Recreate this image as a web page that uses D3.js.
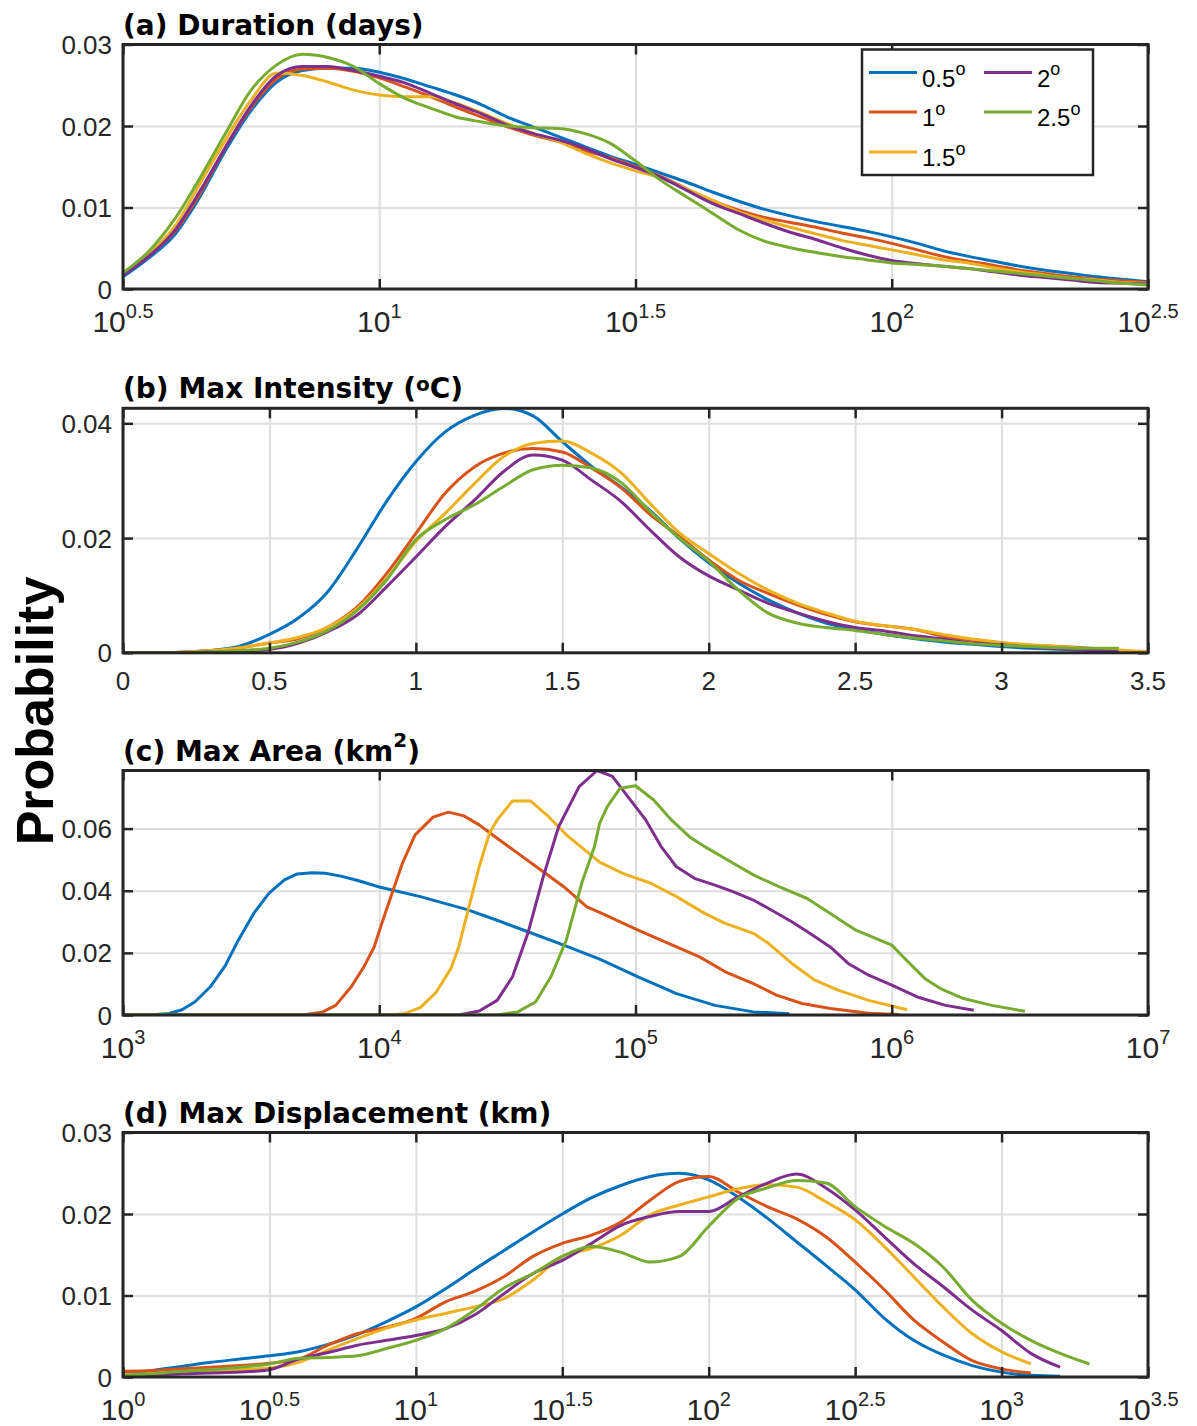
<!DOCTYPE html>
<html>
<head>
<meta charset="utf-8">
<script src="https://cdn.jsdelivr.net/npm/d3@7"></script>
<style>
  body { margin: 0; background: #fff; }
  svg text { font-family: "Liberation Sans", Arial, sans-serif; }
  svg text.title { font-family: "DejaVu Sans", sans-serif; font-weight: bold; }
</style>
</head>
<body>
<svg id="drawing_region"></svg>
<script>
// grid resolutions shown in the legend, MATLAB default colour order
const resolutions = ["0.5", "1", "1.5", "2", "2.5"];
const colors = ["#0072BD", "#D95319", "#EDB120", "#7E2F8E", "#77AC30"];

// (a) Duration (days), x given as log10(days)
const durLogX = [0.5,0.55,0.6,0.65,0.7,0.75,0.8,0.85,0.9,0.95,1,1.05,1.1,1.15,1.2,1.25,1.3,1.35,1.4,1.45,1.5,
                 1.55,1.6,1.65,1.7,1.75,1.8,1.85,1.9,1.95,2,2.05,2.1,2.15,2.2,2.25,2.3,2.35,2.4,2.45,2.5];
const dur05 = [0.0015,0.0038,0.0066,0.0113,0.0170,0.0219,0.0254,0.0268,0.0271,0.0271,0.0266,0.0258,0.0248,0.0238,0.0226,0.0211,0.0199,0.0187,0.0175,0.0163,
               0.0153,0.0142,0.0131,0.0119,0.0108,0.0098,0.0090,0.0083,0.0077,0.0071,0.0064,0.0056,0.0047,0.0040,0.0034,0.0028,0.0023,0.0019,0.0015,0.0012,0.0009];
const dur10 = [0.0018,0.0041,0.0070,0.0117,0.0174,0.0223,0.0258,0.0270,0.0271,0.0267,0.0259,0.0248,0.0236,0.0223,0.0211,0.0199,0.0189,0.0181,0.0170,0.0161,
               0.0150,0.0138,0.0123,0.0108,0.0097,0.0088,0.0082,0.0076,0.0069,0.0063,0.0056,0.0048,0.0040,0.0034,0.0029,0.0023,0.0019,0.0015,0.0012,0.0010,0.0008];
const dur15 = [0.0018,0.0043,0.0076,0.0129,0.0183,0.0232,0.0265,0.0262,0.0254,0.0244,0.0238,0.0236,0.0236,0.0228,0.0216,0.0203,0.0191,0.0181,0.0167,0.0155,
               0.0145,0.0136,0.0123,0.0109,0.0095,0.0085,0.0076,0.0068,0.0060,0.0054,0.0048,0.0042,0.0036,0.0032,0.0026,0.0021,0.0017,0.0013,0.0011,0.0008,0.0007];
const dur20 = [0.0017,0.0040,0.0071,0.0120,0.0174,0.0225,0.0262,0.0273,0.0273,0.0268,0.0261,0.0253,0.0240,0.0227,0.0215,0.0201,0.0191,0.0183,0.0173,0.0160,
               0.0149,0.0137,0.0121,0.0105,0.0093,0.0081,0.0070,0.0061,0.0051,0.0042,0.0035,0.0031,0.0028,0.0025,0.0021,0.0017,0.0014,0.0011,0.0008,0.0007,0.0006];
const dur25 = [0.0020,0.0046,0.0085,0.0136,0.0191,0.0244,0.0275,0.0288,0.0284,0.0273,0.0252,0.0234,0.0222,0.0211,0.0205,0.0200,0.0198,0.0197,0.0191,0.0179,
               0.0157,0.0133,0.0113,0.0093,0.0073,0.0059,0.0051,0.0045,0.0040,0.0036,0.0032,0.0030,0.0028,0.0025,0.0022,0.0019,0.0016,0.0013,0.0010,0.0007,0.0005];

// (b) Max Intensity (oC)
const intX = [0,0.1,0.2,0.3,0.4,0.5,0.6,0.7,0.8,0.9,1,1.1,1.2,1.3,1.4,1.5,1.6,1.7,1.8,1.9,2,2.1,2.2,2.3,2.4,2.5,2.6,2.7,2.8,2.9,3,3.1,3.2,3.3,3.4,3.5];
const int05 = [0,0,0.0001,0.0004,0.0012,0.0032,0.0061,0.0107,0.0182,0.0264,0.0333,0.0385,0.0414,0.0426,0.0413,0.0368,0.0325,0.0289,0.0248,0.0199,
               0.0157,0.0122,0.0093,0.0070,0.0052,0.0041,0.0032,0.0025,0.0019,0.0015,0.0011,0.0008,0.0006,0.0004,0.0002];
const int10 = [0,0,0.0001,0.0004,0.0009,0.0017,0.0025,0.0045,0.0080,0.0138,0.0208,0.0278,0.0324,0.0348,0.0356,0.0350,0.0322,0.0288,0.0241,0.0203,
               0.0162,0.0127,0.0104,0.0084,0.0067,0.0054,0.0047,0.0041,0.0029,0.0022,0.0017,0.0013,0.0011,0.0008,0.0006];
const int15 = [0,0,0.0001,0.0004,0.0009,0.0017,0.0027,0.0045,0.0077,0.0129,0.0194,0.0243,0.0295,0.0342,0.0365,0.0369,0.0348,0.0314,0.0260,0.0209,
               0.0173,0.0139,0.0110,0.0087,0.0070,0.0055,0.0047,0.0041,0.0032,0.0024,0.0018,0.0014,0.0011,0.0007,0.0005,0.0002];
const int20 = [0,0,0,0.0002,0.0003,0.0006,0.0017,0.0037,0.0066,0.0115,0.0167,0.0220,0.0266,0.0316,0.0345,0.0336,0.0301,0.0264,0.0214,0.0167,
               0.0134,0.0110,0.0087,0.0070,0.0055,0.0044,0.0038,0.0030,0.0024,0.0017,0.0014,0.0010,0.0007,0.0005,0.0002];
const int25 = [0,0,0,0.0002,0.0004,0.0008,0.0019,0.0039,0.0074,0.0127,0.0197,0.0232,0.0258,0.0290,0.0319,0.0327,0.0322,0.0297,0.0246,0.0200,
               0.0160,0.0110,0.0070,0.0052,0.0044,0.0039,0.0032,0.0026,0.0021,0.0016,0.0013,0.0011,0.0009,0.0008,0.0008];

// (c) Max Area (km2), x given as log10(km2), each series on its own bins
const areaLogX05 = [3.00,3.10,3.18,3.23,3.28,3.34,3.40,3.45,3.51,3.57,3.63,3.68,3.74,3.79,3.85,3.92,4.00,4.16,4.34,4.46,4.58,4.72,4.86,5.01,5.16,5.31,5.46,5.60];
const area05 =     [0,0,0.0005,0.0017,0.0042,0.0090,0.0160,0.0241,0.0327,0.0392,0.0435,0.0454,0.0458,0.0456,0.0447,0.0432,0.0412,0.0381,0.0340,0.0305,0.0268,0.0225,0.0180,0.0123,0.0069,0.0031,0.0010,0.0004];
const areaLogX10 = [3.00,3.70,3.78,3.83,3.89,3.94,3.98,4.01,4.05,4.09,4.14,4.21,4.27,4.33,4.39,4.46,4.54,4.64,4.72,4.81,4.86,5.01,5.16,5.25,5.35,5.46,5.55,5.65,5.76,5.91,6.03];
const area10 =     [0,0,0.0010,0.0031,0.0090,0.0155,0.0219,0.0295,0.0392,0.0488,0.0580,0.0637,0.0653,0.0641,0.0612,0.0569,0.0521,0.0461,0.0413,0.0348,0.0330,0.0273,0.0219,0.0187,0.0139,0.0101,0.0064,0.0037,0.0021,0.0006,0.0002];
const areaLogX15 = [3.00,4.05,4.10,4.16,4.22,4.28,4.31,4.35,4.39,4.43,4.46,4.52,4.59,4.66,4.73,4.81,4.86,4.95,5.06,5.16,5.27,5.35,5.46,5.52,5.61,5.70,5.79,5.91,6.06];
const area15 =     [0,0,0.0005,0.0024,0.0071,0.0150,0.0219,0.0348,0.0477,0.0585,0.0628,0.0689,0.0689,0.0639,0.0580,0.0526,0.0492,0.0456,0.0424,0.0381,0.0327,0.0295,0.0263,0.0230,0.0166,0.0112,0.0080,0.0047,0.0017];
const areaLogX20 = [3.00,4.31,4.39,4.46,4.52,4.58,4.64,4.70,4.78,4.85,4.91,4.97,5.04,5.10,5.16,5.23,5.31,5.38,5.46,5.53,5.61,5.68,5.76,5.83,5.91,6.00,6.10,6.21,6.32];
const area20 =     [0,0,0.0013,0.0047,0.0123,0.0263,0.0445,0.0606,0.0735,0.0787,0.0768,0.0703,0.0628,0.0542,0.0477,0.0440,0.0418,0.0397,0.0370,0.0338,0.0300,0.0263,0.0219,0.0166,0.0128,0.0096,0.0058,0.0031,0.0015];
const areaLogX25 = [3.00,4.46,4.54,4.61,4.67,4.73,4.79,4.84,4.86,4.89,4.94,5.00,5.07,5.14,5.21,5.28,5.37,5.46,5.56,5.67,5.76,5.86,6.00,6.07,6.13,6.19,6.28,6.39,6.52];
const area25 =     [0,0,0.0010,0.0042,0.0123,0.0241,0.0424,0.0542,0.0617,0.0671,0.0730,0.0738,0.0693,0.0628,0.0574,0.0537,0.0494,0.0451,0.0413,0.0375,0.0327,0.0273,0.0225,0.0166,0.0117,0.0085,0.0053,0.0031,0.0012];

// (d) Max Displacement (km), x given as log10(km)
const dispLogX = [0,0.1,0.2,0.3,0.4,0.5,0.6,0.7,0.8,0.9,1,1.1,1.2,1.3,1.4,1.5,1.6,1.7,1.8,1.9,2,2.1,2.2,2.3,2.4,2.5,2.6,2.7,2.8,2.9,3,3.1,3.2,3.3,3.4,3.5];
const disp05 = [0.0004,0.0008,0.0013,0.0018,0.0022,0.0026,0.0031,0.0040,0.0052,0.0068,0.0086,0.0108,0.0132,0.0155,0.0178,0.0200,0.0220,0.0235,0.0246,0.0250,
                0.0242,0.0221,0.0195,0.0166,0.0137,0.0107,0.0072,0.0045,0.0027,0.0014,0.0006,0.0002,0.0001];
const disp10 = [0.0007,0.0008,0.0010,0.0012,0.0014,0.0017,0.0022,0.0039,0.0053,0.0061,0.0072,0.0092,0.0105,0.0123,0.0148,0.0164,0.0174,0.0190,0.0217,0.0240,
                0.0246,0.0227,0.0209,0.0194,0.0172,0.0141,0.0107,0.0070,0.0043,0.0020,0.0010,0.0005];
const disp15 = [0.0003,0.0004,0.0006,0.0007,0.0009,0.0011,0.0018,0.0033,0.0047,0.0060,0.0070,0.0078,0.0086,0.0096,0.0119,0.0148,0.0158,0.0174,0.0199,0.0211,
                0.0221,0.0231,0.0236,0.0233,0.0215,0.0193,0.0160,0.0123,0.0086,0.0053,0.0031,0.0016];
const disp20 = [0.0001,0.0002,0.0004,0.0005,0.0006,0.0009,0.0022,0.0030,0.0039,0.0045,0.0051,0.0059,0.0076,0.0102,0.0127,0.0143,0.0164,0.0186,0.0197,0.0203,
                0.0203,0.0221,0.0238,0.0249,0.0232,0.0205,0.0172,0.0139,0.0111,0.0082,0.0057,0.0029,0.0012];
const disp25 = [0.0002,0.0004,0.0007,0.0009,0.0012,0.0016,0.0023,0.0024,0.0026,0.0035,0.0045,0.0059,0.0082,0.0109,0.0127,0.0148,0.0160,0.0153,0.0141,0.0148,
                0.0185,0.0219,0.0232,0.0241,0.0238,0.0209,0.0185,0.0164,0.0135,0.0094,0.0066,0.0045,0.0029,0.0016];

// axis ticks
const durTickExp = [0.5, 1, 1.5, 2, 2.5];
const intTicks = [0, 0.5, 1, 1.5, 2, 2.5, 3, 3.5];
const areaTickExp = [3, 4, 5, 6, 7];
const dispTickExp = [0, 0.5, 1, 1.5, 2, 2.5, 3, 3.5];

const pow10 = u => Math.pow(10, u);
const ident = v => v;
const pairs = (xs, ys, toX) => ys.map((y, i) => ({ x: toX(xs[i]), y: y }));

const svg = d3.select('#drawing_region')
    .attr('width', 1197)
    .attr('height', 1426);

const margin = { left: 123 };
const plotW = 1025, plotH = 244.5;
const ink = '#262626';

class ProbPanel {

    constructor( config ) {
        this.config = config;
        this.init();
    }

    init() {
        let self = this;
        const c = self.config;

        self.chart = svg.append('g')
            .attr('transform', `translate(${margin.left}, ${c.top})`);

        self.xvals = c.log ? c.xTicks.map(pow10) : c.xTicks;

        self.xscale = (c.log ? d3.scaleLog() : d3.scaleLinear())
            .domain( [self.xvals[0], self.xvals[self.xvals.length - 1]] )
            .range( [0, plotW] );

        self.yscale = d3.scaleLinear()
            .domain( [0, c.yMax] )
            .range( [plotH, 0] );
    }

    render() {
        let self = this;
        const c = self.config;
        const g = self.chart;

        // grid
        const gx = g.append('g').attr('transform', `translate(0, ${plotH})`)
            .call( d3.axisBottom(self.xscale).tickValues(self.xvals).tickSize(-plotH).tickFormat('') );
        const gy = g.append('g')
            .call( d3.axisLeft(self.yscale).tickValues(c.yTicks).tickSize(-plotW).tickFormat('') );
        [gx, gy].forEach(s => {
            s.select('.domain').remove();
            s.selectAll('line').attr('stroke', '#dedede').attr('stroke-width', 2);
        });

        // curves
        const clipId = 'clip-' + c.id;
        g.append('clipPath').attr('id', clipId)
            .append('rect').attr('x', -2).attr('y', -2).attr('width', plotW + 4).attr('height', plotH + 2);

        const line = d3.line()
            .x(d => self.xscale(d.x))
            .y(d => self.yscale(d.y))
            .curve(c.curve);

        g.append('g').attr('clip-path', `url(#${clipId})`)
            .selectAll('path')
            .data(c.series)
            .join('path')
            .attr('d', line)
            .attr('fill', 'none')
            .attr('stroke', (d, i) => colors[i])
            .attr('stroke-width', 3)
            .attr('stroke-linejoin', 'round');

        // inward ticks on all four sides
        const tk = [
            g.append('g').attr('transform', `translate(0, ${plotH})`)
                .call( d3.axisBottom(self.xscale).tickValues(self.xvals).tickSize(-10).tickFormat('') ),
            g.append('g')
                .call( d3.axisTop(self.xscale).tickValues(self.xvals).tickSize(-10).tickFormat('') ),
            g.append('g')
                .call( d3.axisLeft(self.yscale).tickValues(c.yTicks).tickSize(-10).tickFormat('') ),
            g.append('g').attr('transform', `translate(${plotW}, 0)`)
                .call( d3.axisRight(self.yscale).tickValues(c.yTicks).tickSize(-10).tickFormat('') )
        ];
        tk.forEach(s => {
            s.select('.domain').remove();
            s.selectAll('line').attr('stroke', ink).attr('stroke-width', 2.5);
        });

        g.append('rect')
            .attr('width', plotW).attr('height', plotH)
            .attr('fill', 'none').attr('stroke', ink).attr('stroke-width', 3);

        // y tick labels
        g.selectAll('.ylab')
            .data(c.yTicks)
            .join('text')
            .attr('class', 'ylab')
            .attr('x', -11)
            .attr('y', d => self.yscale(d) + 9.5)
            .attr('text-anchor', 'end')
            .attr('font-size', 26)
            .attr('fill', ink)
            .text(d => d === 0 ? '0' : d.toFixed(2));

        // x tick labels
        const xl = g.selectAll('.xlab')
            .data(c.xTicks)
            .join('text')
            .attr('class', 'xlab')
            .attr('x', (d, i) => self.xscale(self.xvals[i]))
            .attr('y', plotH + (c.log ? 43 : 37))
            .attr('text-anchor', 'middle')
            .attr('fill', ink);
        if (c.log) {
            xl.append('tspan').attr('font-size', 30).text('10');
            xl.append('tspan').attr('font-size', 20).attr('dy', -14).text(d => String(d));
        } else {
            xl.attr('font-size', 26).text(d => String(d));
        }

        // title
        const t = g.append('text')
            .attr('class', 'title')
            .attr('x', 0).attr('y', -10)
            .attr('font-size', 28)
            .attr('fill', '#000');
        c.title.forEach(p => {
            const s = t.append('tspan').text(p[0]);
            if (p[1]) s.attr('font-size', p[1]);
            if (p[2]) s.attr('dy', p[2]);
        });
    }
}

const panels = [
    { id: 'a', top: 44.5, log: true, xTicks: durTickExp, yMax: 0.03, yTicks: [0, 0.01, 0.02, 0.03],
      curve: d3.curveMonotoneX, title: [["(a) Duration (days)"]],
      series: [dur05, dur10, dur15, dur20, dur25].map(ys => pairs(durLogX, ys, pow10)) },
    { id: 'b', top: 408.3, log: false, xTicks: intTicks, yMax: 0.04262, yTicks: [0, 0.02, 0.04],
      curve: d3.curveMonotoneX, title: [["(b) Max Intensity ("], ["o", 20, -7], ["C)", null, 7]],
      series: [int05, int10, int15, int20, int25].map(ys => pairs(intX, ys, ident)) },
    { id: 'c', top: 770.5, log: true, xTicks: areaTickExp, yMax: 0.0787, yTicks: [0, 0.02, 0.04, 0.06],
      curve: d3.curveLinear, title: [["(c) Max Area (km"], ["2", 20, -14], [")", null, 14]],
      series: [[areaLogX05, area05], [areaLogX10, area10], [areaLogX15, area15], [areaLogX20, area20], [areaLogX25, area25]]
          .map(p => pairs(p[0], p[1], pow10)) },
    { id: 'd', top: 1132.5, log: true, xTicks: dispTickExp, yMax: 0.03, yTicks: [0, 0.01, 0.02, 0.03],
      curve: d3.curveMonotoneX, title: [["(d) Max Displacement (km)"]],
      series: [disp05, disp10, disp15, disp20, disp25].map(ys => pairs(dispLogX, ys, pow10)) }
];

panels.forEach(cfg => {
    const p = new ProbPanel(cfg);
    p.render();
});

// shared y label
svg.append('text')
    .attr('transform', 'translate(53, 711) rotate(-90)')
    .attr('text-anchor', 'middle')
    .attr('font-size', 52)
    .attr('font-weight', 'bold')
    .attr('fill', '#000')
    .text('Probability');

// legend (inside panel a)
const legend = svg.append('g');
legend.append('rect')
    .attr('x', 862).attr('y', 49.5).attr('width', 231).attr('height', 125.5)
    .attr('fill', '#fff').attr('stroke', ink).attr('stroke-width', 2.5);

const legendPos = [[869, 72.5], [869, 112], [869, 152], [984, 72.5], [984, 112]];
const items = legend.selectAll('.item')
    .data(resolutions)
    .join('g')
    .attr('class', 'item')
    .attr('transform', (d, i) => `translate(${legendPos[i][0]}, ${legendPos[i][1]})`);
items.append('line')
    .attr('x1', 0).attr('x2', 48)
    .attr('stroke', (d, i) => colors[i]).attr('stroke-width', 3);
const lt = items.append('text')
    .attr('x', 53).attr('y', 14)
    .attr('font-size', 24)
    .attr('fill', '#000');
lt.append('tspan').text(d => d);
lt.append('tspan').attr('font-size', 18).attr('dy', -11.5).text('o');
</script>
</body>
</html>
